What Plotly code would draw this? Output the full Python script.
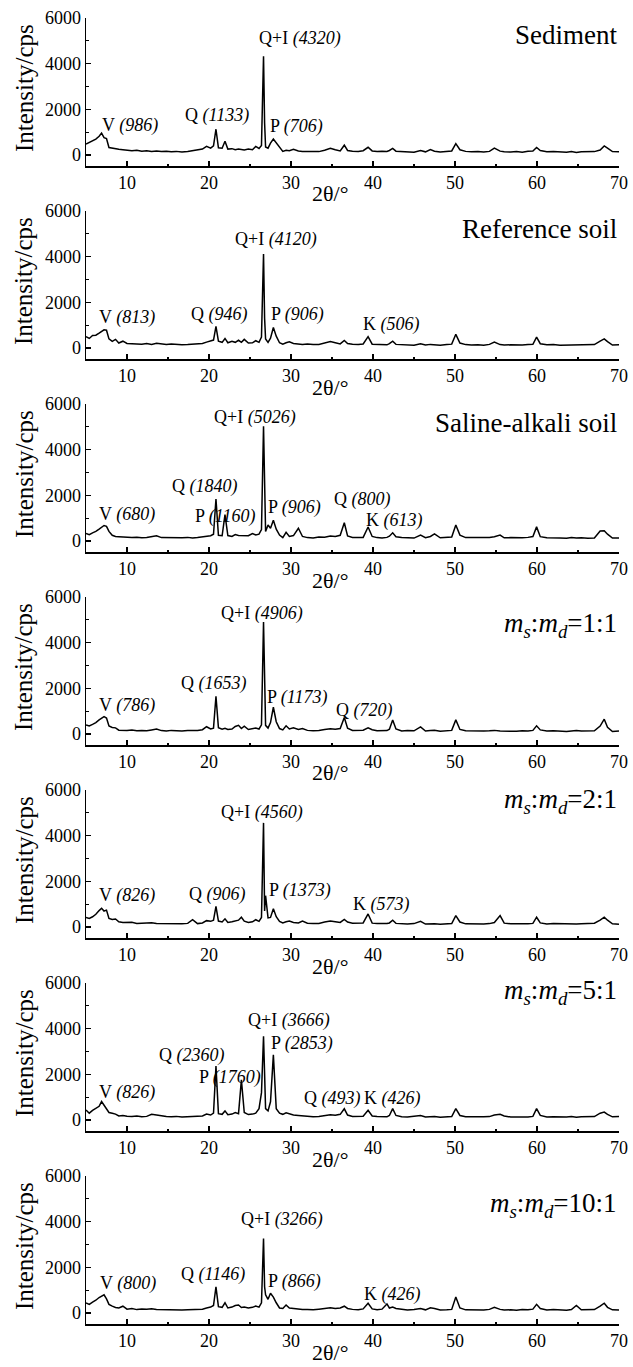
import plotly.graph_objects as go

# ---------------- data ----------------
two_theta = [
    5.0, 5.4, 5.8, 6.2, 6.6, 6.9, 7.2, 7.5, 7.8, 8.2,
    8.6, 9.0, 9.5, 10.0, 10.6, 11.2, 11.8, 12.4, 13.0, 13.6,
    14.2, 14.8, 15.4, 16.0, 16.7, 17.4, 18.0, 18.6, 19.2, 19.7,
    20.2, 20.55, 20.85, 21.15, 21.6, 21.95, 22.3, 22.8, 23.2, 23.6,
    23.95, 24.3, 24.8, 25.3, 25.7, 26.1, 26.4, 26.65, 26.78, 26.9,
    27.2, 27.5, 27.85, 28.2, 28.6, 29.0, 29.4, 29.8, 30.3, 30.9,
    31.4, 32.0, 32.7, 33.4, 34.1, 34.8, 35.4, 36.0, 36.5, 36.9,
    37.5, 38.2, 38.8, 39.4, 39.9, 40.5, 41.1, 41.7, 42.0, 42.4,
    42.8, 43.5, 44.2, 45.0, 45.8, 46.4, 47.0, 47.5, 48.2, 49.0,
    49.6, 50.1, 50.6, 51.3, 52.0, 52.8, 53.5, 54.2, 54.8, 55.5,
    56.0, 56.8, 57.5, 58.2, 58.9, 59.5, 59.95, 60.4, 61.2, 62.0,
    62.8, 63.6, 64.2, 64.8, 65.4, 66.2, 67.0, 67.7, 68.2, 68.6,
    69.2, 70.0,
]

int_sediment = [
    480, 560, 620, 700, 820, 960, 760, 720, 330, 300,
    260, 250, 230, 200, 190, 210, 170, 190, 160, 180,
    150, 170, 140, 160, 130, 150, 190, 210, 260, 380,
    300, 400, 1130, 320, 300, 600, 260, 280, 230, 260,
    240, 220, 260, 230, 380, 290, 420, 4320, 1400, 350,
    300, 520, 700, 520, 320, 160, 210, 190, 250, 180,
    160, 150, 170, 150, 210, 300, 230, 180, 430, 200,
    170, 160, 190, 340, 180, 150, 170, 160, 200, 290,
    170, 150, 160, 120, 200, 140, 240, 170, 130, 140,
    180, 500, 230, 160, 140, 150, 130, 160, 300, 170,
    140, 130, 150, 120, 170, 180, 330, 200, 140, 160,
    130, 120, 150, 110, 140, 130, 150, 220, 400, 300,
    150, 140,
]

int_reference = [
    500, 420, 550, 560, 650, 720, 800, 780, 400, 290,
    380, 220, 300, 200, 190, 180, 170, 200, 160, 210,
    170, 150, 180, 160, 140, 150, 160, 170, 200, 260,
    300, 350, 950, 300, 250, 420, 230, 300, 250, 340,
    250, 380, 220, 230, 320, 250, 480, 4120, 1300, 400,
    250, 430, 900, 520, 230, 170, 230, 270, 200, 170,
    160, 180, 150, 160, 220, 280, 230, 180, 330, 200,
    170, 150, 180, 500, 170, 150, 160, 140, 190, 300,
    160, 140, 150, 120, 190, 130, 160, 140, 120, 150,
    170, 600, 220, 150, 130, 140, 120, 160, 260, 150,
    130, 140, 120, 130, 150, 160, 480, 190, 140, 150,
    120, 130, 120, 140, 120, 130, 150, 300, 400, 280,
    130, 140,
]

int_saline = [
    330, 280, 360, 420, 520, 620, 680, 640, 420, 250,
    200, 190, 170, 160, 150, 170, 140, 150, 200, 230,
    150, 140, 130, 150, 140, 160, 130, 150, 170, 200,
    230, 300, 1840, 250, 230, 1160, 240, 200, 280, 240,
    230, 250, 230, 330, 270, 300, 500, 5026, 1500, 420,
    700, 560, 906, 520, 260, 150, 380, 200, 240, 560,
    200, 150, 130, 180, 170, 220, 200, 250, 800, 220,
    160, 170, 160, 613, 200, 150, 130, 160, 210, 360,
    190, 150, 140, 130, 260, 150, 200, 310, 140, 150,
    180, 700, 260, 150, 140, 130, 150, 160, 190, 260,
    140, 150, 130, 140, 160, 200, 620, 190, 140, 150,
    130, 120, 150, 130, 140, 120, 130, 440, 450, 300,
    130, 130,
]

int_ratio_1_1 = [
    400, 350, 420, 500, 620, 700, 760, 700, 350, 290,
    270, 170, 160, 150, 180, 140, 150, 140, 180, 220,
    150, 130, 160, 140, 130, 150, 140, 160, 190, 320,
    220, 260, 1653, 280, 210, 250, 200, 220, 330, 380,
    240, 340, 200, 220, 260, 220, 400, 4906, 1500, 380,
    260, 500, 1173, 540, 240, 180, 360, 220, 270, 200,
    240, 160, 140, 150, 200, 230, 210, 240, 720, 260,
    160, 150, 170, 270, 190, 140, 160, 150, 210, 620,
    220, 130, 150, 140, 310, 130, 150, 170, 120, 140,
    160, 620, 200, 140, 130, 120, 130, 140, 160, 130,
    120, 130, 120, 140, 130, 160, 360, 180, 130, 140,
    120, 110, 130, 150, 130, 120, 140, 350, 650, 300,
    110, 130,
]

int_ratio_2_1 = [
    420, 380, 450, 560, 720, 820, 700, 740, 380, 330,
    350, 230, 200, 190, 210, 160, 180, 170, 190, 160,
    150, 170, 130, 150, 140, 160, 320, 150, 180, 280,
    250, 300, 906, 260, 220, 360, 200, 230, 270, 300,
    430, 260, 200, 230, 320, 250, 420, 4560, 700, 1373,
    400, 420, 800, 450, 250, 180, 230, 260, 200, 180,
    260, 170, 150, 160, 220, 260, 230, 200, 330, 220,
    170, 160, 180, 573, 170, 150, 140, 160, 180, 300,
    160, 140, 130, 150, 250, 130, 150, 140, 120, 130,
    150, 500, 220, 140, 130, 150, 130, 150, 200, 500,
    170, 140, 130, 150, 140, 160, 430, 180, 130, 150,
    140, 130, 120, 130, 140, 150, 170, 300, 430, 300,
    140, 120,
]

int_ratio_5_1 = [
    440, 300, 420, 500, 600, 810, 650, 500, 330, 300,
    260, 180, 200, 170, 150, 180, 140, 160, 250, 220,
    170, 150, 140, 160, 130, 150, 140, 160, 180, 260,
    220, 300, 2360, 280, 250, 400, 230, 260, 330, 280,
    1760, 330, 240, 260, 300, 500, 1200, 3666, 1300, 500,
    400, 800, 2853, 500, 300, 250, 320, 280, 220, 200,
    180, 150, 140, 160, 200, 230, 210, 250, 493, 220,
    160, 150, 170, 426, 180, 160, 150, 140, 200, 500,
    200, 140, 130, 150, 200, 130, 140, 150, 120, 130,
    150, 500, 200, 140, 130, 120, 140, 150, 220, 250,
    180, 130, 120, 140, 130, 160, 500, 200, 130, 140,
    120, 130, 150, 120, 140, 130, 150, 300, 350, 250,
    140, 150,
]

int_ratio_10_1 = [
    440, 380, 480, 560, 680, 760, 800, 620, 380, 300,
    240, 220, 300, 170, 200, 150, 180, 170, 190, 160,
    150, 170, 140, 150, 130, 140, 160, 150, 170, 220,
    260, 330, 1146, 280, 250, 450, 220, 260, 330, 350,
    240, 260, 220, 250, 310, 260, 450, 3266, 1150, 800,
    600, 866, 700, 450, 220, 200, 350, 220, 190, 170,
    150, 160, 140, 170, 190, 230, 200, 220, 300, 200,
    160, 140, 180, 426, 180, 140, 170, 400, 220, 260,
    200, 150, 130, 150, 200, 140, 230, 200, 130, 140,
    160, 700, 220, 140, 130, 150, 130, 160, 250, 160,
    130, 140, 120, 150, 140, 170, 380, 200, 130, 160,
    140, 120, 150, 330, 140, 130, 150, 300, 430, 250,
    140, 130,
]

sample_names = [
    "Sediment",
    "Reference soil",
    "Saline-alkali soil",
    "<i>m</i><sub><i>s</i></sub>:<i>m</i><sub><i>d</i></sub>=1:1",
    "<i>m</i><sub><i>s</i></sub>:<i>m</i><sub><i>d</i></sub>=2:1",
    "<i>m</i><sub><i>s</i></sub>:<i>m</i><sub><i>d</i></sub>=5:1",
    "<i>m</i><sub><i>s</i></sub>:<i>m</i><sub><i>d</i></sub>=10:1",
]
intensities = [int_sediment, int_reference, int_saline, int_ratio_1_1,
               int_ratio_2_1, int_ratio_5_1, int_ratio_10_1]

# peak labels: (phase, peak intensity) per sample
peak_phases = [
    ["V", "Q", "Q+I", "P"],
    ["V", "Q", "Q+I", "P", "K"],
    ["V", "Q", "P", "Q+I", "P", "Q", "K"],
    ["V", "Q", "Q+I", "P", "Q"],
    ["V", "Q", "Q+I", "P", "K"],
    ["V", "Q", "P", "Q+I", "P", "Q", "K"],
    ["V", "Q", "Q+I", "P", "K"],
]
peak_values = [
    [986, 1133, 4320, 706],
    [813, 946, 4120, 906, 506],
    [680, 1840, 1160, 5026, 906, 800, 613],
    [786, 1653, 4906, 1173, 720],
    [826, 906, 4560, 1373, 573],
    [826, 2360, 1760, 3666, 2853, 493, 426],
    [800, 1146, 3266, 866, 426],
]

# ---------------- layout positions (label anchors, data coords) ----------------
label_pos = [
    [(6.7, 1314), (16.8, 1750), (25.9, 5120), (27.2, 1270)],
    [(6.4, 1317), (17.5, 1463), (22.9, 4755), (27.3, 1463), (38.5, 1024)],
    [(6.4, 1165), (15.3, 2400), (18.0, 1090), (20.4, 5390), (26.9, 1456), (34.95, 1800), (38.96, 900)],
    [(6.4, 1244), (16.4, 2195), (21.2, 5268), (26.8, 1610), (35.2, 1024)],
    [(6.3, 1367), (17.3, 1440), (21.2, 5000), (27.1, 1588), (37.3, 1000)],
    [(6.4, 1185), (13.6, 2815), (18.5, 1850), (24.5, 4370), (27.3, 3333), (31.3, 963), (38.6, 963)],
    [(6.5, 1310), (16.3, 1675), (23.7, 4080), (26.9, 1383), (38.6, 800)],
]
name_y = [5250, 5200, 5170, 4770, 5500, 5600, 4730]

W, H = 633, 1367
FONT = "Liberation Serif, Times New Roman, serif"
x_left, x_right = 86, 619
top0, panel_h, step = 18, 148, 193

fig = go.Figure()
annotations = []
for i in range(7):
    n = i + 1
    xa = "x" if n == 1 else f"x{n}"
    ya = "y" if n == 1 else f"y{n}"
    fig.add_trace(go.Scatter(x=two_theta, y=intensities[i], mode="lines",
                             line=dict(color="black", width=1.5),
                             xaxis=xa, yaxis=ya, showlegend=False,
                             hoverinfo="skip"))
    top = top0 + step * i
    bot = top + panel_h
    dom_y = [1 - bot / H, 1 - top / H]
    common = dict(showline=True, linecolor="black", linewidth=1.5,
                  ticks="inside", tickcolor="black", tickwidth=1.2,
                  showgrid=False, zeroline=False, automargin=False,
                  tickfont=dict(family=FONT, size=18, color="black"))
    fig.update_layout(**{
        ("xaxis" if n == 1 else f"xaxis{n}"): dict(
            domain=[x_left / W, x_right / W], anchor=ya, range=[5, 70],
            tickvals=[10, 20, 30, 40, 50, 60, 70], ticklen=5,
            minor=dict(tickvals=[15, 25, 35, 45, 55, 65], ticklen=2.5,
                       ticks="inside", tickcolor="black", tickwidth=1.2),
            **common),
        ("yaxis" if n == 1 else f"yaxis{n}"): dict(
            domain=dom_y, anchor=xa, range=[-480, 6000],
            tickvals=[0, 2000, 4000, 6000], ticklen=5,
            minor=dict(tickvals=[1000, 3000, 5000], ticklen=2.5,
                       ticks="inside", tickcolor="black", tickwidth=1.2),
            **common),
    })
    # peak labels
    for (ph, val), (lx, ly) in zip(zip(peak_phases[i], peak_values[i]), label_pos[i]):
        annotations.append(dict(x=lx, y=ly, xref=xa, yref=ya,
                                text=f"{ph} <i>({val})</i>", showarrow=False,
                                xanchor="left", yanchor="middle",
                                font=dict(family=FONT, size=18, color="black")))
    # sample name
    annotations.append(dict(x=1.0, y=name_y[i], xref=f"{xa} domain", yref=ya,
                            text=sample_names[i], showarrow=False,
                            xanchor="right", yanchor="middle",
                            font=dict(family=FONT, size=27, color="black")))
    # x title
    annotations.append(dict(x=330 / W, y=1 - (bot + 28) / H, xref="paper", yref="paper",
                            text="2θ/°", showarrow=False, xanchor="center", yanchor="middle",
                            font=dict(family=FONT, size=22, color="black")))
    # y title
    annotations.append(dict(x=24 / W, y=1 - (top + 70) / H, xref="paper", yref="paper",
                            text="Intensity/cps", showarrow=False, textangle=-90,
                            xanchor="center", yanchor="middle",
                            font=dict(family=FONT, size=25, color="black")))

fig.update_layout(width=W, height=H, margin=dict(l=0, r=0, t=0, b=0),
                  paper_bgcolor="white", plot_bgcolor="white",
                  annotations=annotations)
fig.write_html("out.html", config={"displayModeBar": False, "staticPlot": True},
               post_script="document.body.style.margin='0px';document.body.style.overflow='hidden';")
